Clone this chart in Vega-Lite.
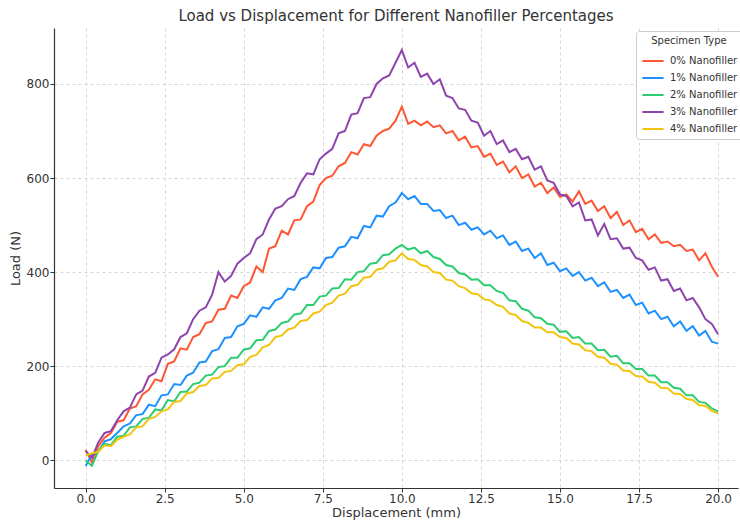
{
  "$schema": "https://vega.github.io/schema/vega-lite/v6.json",
  "width": 684,
  "height": 460,
  "autosize": {"type": "none"},
  "padding": {"left": 54, "top": 28, "right": 2, "bottom": 34},
  "background": "white",
  "title": {"text": "Load vs Displacement for Different Nanofiller Percentages", "fontSize": 15, "font": "DejaVu Sans", "fontWeight": "normal", "color": "#333333", "offset": 4},
  "data": {"values": [
{"x":0,"0% Nanofiller":22,"1% Nanofiller":-12,"2% Nanofiller":0,"3% Nanofiller":20,"4% Nanofiller":10},
{"x":0.2,"0% Nanofiller":-5,"1% Nanofiller":12,"2% Nanofiller":-12,"3% Nanofiller":5,"4% Nanofiller":15},
{"x":0.4,"0% Nanofiller":30,"1% Nanofiller":18,"2% Nanofiller":20,"3% Nanofiller":38,"4% Nanofiller":18},
{"x":0.6,"0% Nanofiller":48,"1% Nanofiller":40,"2% Nanofiller":35,"3% Nanofiller":58,"4% Nanofiller":32},
{"x":0.8,"0% Nanofiller":58,"1% Nanofiller":45,"2% Nanofiller":32,"3% Nanofiller":62,"4% Nanofiller":30},
{"x":1.0,"0% Nanofiller":82,"1% Nanofiller":58,"2% Nanofiller":50,"3% Nanofiller":85,"4% Nanofiller":44},
{"x":1.2,"0% Nanofiller":85,"1% Nanofiller":72,"2% Nanofiller":52,"3% Nanofiller":104,"4% Nanofiller":50},
{"x":1.4,"0% Nanofiller":110,"1% Nanofiller":78,"2% Nanofiller":70,"3% Nanofiller":112,"4% Nanofiller":55},
{"x":1.6,"0% Nanofiller":115,"1% Nanofiller":96,"2% Nanofiller":72,"3% Nanofiller":140,"4% Nanofiller":70},
{"x":1.8,"0% Nanofiller":140,"1% Nanofiller":98,"2% Nanofiller":88,"3% Nanofiller":148,"4% Nanofiller":72},
{"x":2.0,"0% Nanofiller":150,"1% Nanofiller":118,"2% Nanofiller":90,"3% Nanofiller":178,"4% Nanofiller":88},
{"x":2.2,"0% Nanofiller":172,"1% Nanofiller":115,"2% Nanofiller":108,"3% Nanofiller":186,"4% Nanofiller":92},
{"x":2.4,"0% Nanofiller":168,"1% Nanofiller":138,"2% Nanofiller":106,"3% Nanofiller":218,"4% Nanofiller":104},
{"x":2.6,"0% Nanofiller":205,"1% Nanofiller":140,"2% Nanofiller":128,"3% Nanofiller":225,"4% Nanofiller":108},
{"x":2.8,"0% Nanofiller":210,"1% Nanofiller":162,"2% Nanofiller":125,"3% Nanofiller":236,"4% Nanofiller":124},
{"x":3.0,"0% Nanofiller":238,"1% Nanofiller":160,"2% Nanofiller":145,"3% Nanofiller":262,"4% Nanofiller":126},
{"x":3.2,"0% Nanofiller":235,"1% Nanofiller":180,"2% Nanofiller":146,"3% Nanofiller":270,"4% Nanofiller":142},
{"x":3.4,"0% Nanofiller":262,"1% Nanofiller":186,"2% Nanofiller":162,"3% Nanofiller":300,"4% Nanofiller":145},
{"x":3.6,"0% Nanofiller":268,"1% Nanofiller":208,"2% Nanofiller":165,"3% Nanofiller":318,"4% Nanofiller":158},
{"x":3.8,"0% Nanofiller":292,"1% Nanofiller":210,"2% Nanofiller":180,"3% Nanofiller":325,"4% Nanofiller":160},
{"x":4.0,"0% Nanofiller":295,"1% Nanofiller":232,"2% Nanofiller":182,"3% Nanofiller":352,"4% Nanofiller":174},
{"x":4.2,"0% Nanofiller":320,"1% Nanofiller":236,"2% Nanofiller":198,"3% Nanofiller":400,"4% Nanofiller":175},
{"x":4.4,"0% Nanofiller":322,"1% Nanofiller":260,"2% Nanofiller":200,"3% Nanofiller":380,"4% Nanofiller":188},
{"x":4.6,"0% Nanofiller":350,"1% Nanofiller":262,"2% Nanofiller":218,"3% Nanofiller":392,"4% Nanofiller":190},
{"x":4.8,"0% Nanofiller":345,"1% Nanofiller":285,"2% Nanofiller":218,"3% Nanofiller":418,"4% Nanofiller":202},
{"x":5.0,"0% Nanofiller":370,"1% Nanofiller":290,"2% Nanofiller":235,"3% Nanofiller":430,"4% Nanofiller":204},
{"x":5.2,"0% Nanofiller":378,"1% Nanofiller":308,"2% Nanofiller":238,"3% Nanofiller":440,"4% Nanofiller":220},
{"x":5.4,"0% Nanofiller":412,"1% Nanofiller":305,"2% Nanofiller":255,"3% Nanofiller":470,"4% Nanofiller":224},
{"x":5.6,"0% Nanofiller":400,"1% Nanofiller":325,"2% Nanofiller":256,"3% Nanofiller":480,"4% Nanofiller":240},
{"x":5.8,"0% Nanofiller":450,"1% Nanofiller":322,"2% Nanofiller":275,"3% Nanofiller":512,"4% Nanofiller":245},
{"x":6.0,"0% Nanofiller":455,"1% Nanofiller":340,"2% Nanofiller":278,"3% Nanofiller":535,"4% Nanofiller":262},
{"x":6.2,"0% Nanofiller":488,"1% Nanofiller":345,"2% Nanofiller":292,"3% Nanofiller":540,"4% Nanofiller":265},
{"x":6.4,"0% Nanofiller":480,"1% Nanofiller":365,"2% Nanofiller":295,"3% Nanofiller":555,"4% Nanofiller":278},
{"x":6.6,"0% Nanofiller":510,"1% Nanofiller":362,"2% Nanofiller":310,"3% Nanofiller":562,"4% Nanofiller":282},
{"x":6.8,"0% Nanofiller":512,"1% Nanofiller":385,"2% Nanofiller":312,"3% Nanofiller":590,"4% Nanofiller":296},
{"x":7.0,"0% Nanofiller":540,"1% Nanofiller":390,"2% Nanofiller":330,"3% Nanofiller":610,"4% Nanofiller":298},
{"x":7.2,"0% Nanofiller":550,"1% Nanofiller":410,"2% Nanofiller":330,"3% Nanofiller":608,"4% Nanofiller":312},
{"x":7.4,"0% Nanofiller":585,"1% Nanofiller":408,"2% Nanofiller":348,"3% Nanofiller":640,"4% Nanofiller":316},
{"x":7.6,"0% Nanofiller":600,"1% Nanofiller":430,"2% Nanofiller":350,"3% Nanofiller":652,"4% Nanofiller":330},
{"x":7.8,"0% Nanofiller":605,"1% Nanofiller":432,"2% Nanofiller":365,"3% Nanofiller":662,"4% Nanofiller":335},
{"x":8.0,"0% Nanofiller":625,"1% Nanofiller":452,"2% Nanofiller":366,"3% Nanofiller":695,"4% Nanofiller":350},
{"x":8.2,"0% Nanofiller":632,"1% Nanofiller":455,"2% Nanofiller":385,"3% Nanofiller":700,"4% Nanofiller":354},
{"x":8.4,"0% Nanofiller":655,"1% Nanofiller":475,"2% Nanofiller":384,"3% Nanofiller":735,"4% Nanofiller":370},
{"x":8.6,"0% Nanofiller":650,"1% Nanofiller":472,"2% Nanofiller":400,"3% Nanofiller":738,"4% Nanofiller":373},
{"x":8.8,"0% Nanofiller":672,"1% Nanofiller":498,"2% Nanofiller":402,"3% Nanofiller":770,"4% Nanofiller":388},
{"x":9.0,"0% Nanofiller":668,"1% Nanofiller":495,"2% Nanofiller":418,"3% Nanofiller":772,"4% Nanofiller":390},
{"x":9.2,"0% Nanofiller":690,"1% Nanofiller":520,"2% Nanofiller":420,"3% Nanofiller":800,"4% Nanofiller":405},
{"x":9.4,"0% Nanofiller":700,"1% Nanofiller":518,"2% Nanofiller":436,"3% Nanofiller":812,"4% Nanofiller":408},
{"x":9.6,"0% Nanofiller":705,"1% Nanofiller":540,"2% Nanofiller":438,"3% Nanofiller":818,"4% Nanofiller":422},
{"x":9.8,"0% Nanofiller":722,"1% Nanofiller":548,"2% Nanofiller":450,"3% Nanofiller":845,"4% Nanofiller":425},
{"x":10.0,"0% Nanofiller":752,"1% Nanofiller":568,"2% Nanofiller":458,"3% Nanofiller":872,"4% Nanofiller":440},
{"x":10.2,"0% Nanofiller":715,"1% Nanofiller":555,"2% Nanofiller":448,"3% Nanofiller":835,"4% Nanofiller":428},
{"x":10.4,"0% Nanofiller":722,"1% Nanofiller":562,"2% Nanofiller":452,"3% Nanofiller":845,"4% Nanofiller":426},
{"x":10.6,"0% Nanofiller":712,"1% Nanofiller":545,"2% Nanofiller":440,"3% Nanofiller":815,"4% Nanofiller":415},
{"x":10.8,"0% Nanofiller":720,"1% Nanofiller":545,"2% Nanofiller":445,"3% Nanofiller":822,"4% Nanofiller":412},
{"x":11.0,"0% Nanofiller":708,"1% Nanofiller":530,"2% Nanofiller":432,"3% Nanofiller":800,"4% Nanofiller":400},
{"x":11.2,"0% Nanofiller":712,"1% Nanofiller":532,"2% Nanofiller":428,"3% Nanofiller":810,"4% Nanofiller":398},
{"x":11.4,"0% Nanofiller":695,"1% Nanofiller":515,"2% Nanofiller":415,"3% Nanofiller":775,"4% Nanofiller":384},
{"x":11.6,"0% Nanofiller":700,"1% Nanofiller":520,"2% Nanofiller":412,"3% Nanofiller":770,"4% Nanofiller":382},
{"x":11.8,"0% Nanofiller":680,"1% Nanofiller":500,"2% Nanofiller":398,"3% Nanofiller":748,"4% Nanofiller":370},
{"x":12.0,"0% Nanofiller":688,"1% Nanofiller":505,"2% Nanofiller":395,"3% Nanofiller":745,"4% Nanofiller":366},
{"x":12.2,"0% Nanofiller":665,"1% Nanofiller":490,"2% Nanofiller":384,"3% Nanofiller":722,"4% Nanofiller":355},
{"x":12.4,"0% Nanofiller":668,"1% Nanofiller":495,"2% Nanofiller":385,"3% Nanofiller":718,"4% Nanofiller":353},
{"x":12.6,"0% Nanofiller":645,"1% Nanofiller":480,"2% Nanofiller":372,"3% Nanofiller":690,"4% Nanofiller":342},
{"x":12.8,"0% Nanofiller":652,"1% Nanofiller":488,"2% Nanofiller":372,"3% Nanofiller":700,"4% Nanofiller":340},
{"x":13.0,"0% Nanofiller":628,"1% Nanofiller":472,"2% Nanofiller":360,"3% Nanofiller":672,"4% Nanofiller":330},
{"x":13.2,"0% Nanofiller":635,"1% Nanofiller":478,"2% Nanofiller":356,"3% Nanofiller":680,"4% Nanofiller":326},
{"x":13.4,"0% Nanofiller":612,"1% Nanofiller":458,"2% Nanofiller":340,"3% Nanofiller":655,"4% Nanofiller":312},
{"x":13.6,"0% Nanofiller":625,"1% Nanofiller":465,"2% Nanofiller":338,"3% Nanofiller":662,"4% Nanofiller":309},
{"x":13.8,"0% Nanofiller":600,"1% Nanofiller":445,"2% Nanofiller":322,"3% Nanofiller":640,"4% Nanofiller":296},
{"x":14.0,"0% Nanofiller":608,"1% Nanofiller":450,"2% Nanofiller":318,"3% Nanofiller":645,"4% Nanofiller":292},
{"x":14.2,"0% Nanofiller":582,"1% Nanofiller":430,"2% Nanofiller":304,"3% Nanofiller":618,"4% Nanofiller":282},
{"x":14.4,"0% Nanofiller":590,"1% Nanofiller":440,"2% Nanofiller":302,"3% Nanofiller":625,"4% Nanofiller":282},
{"x":14.6,"0% Nanofiller":568,"1% Nanofiller":415,"2% Nanofiller":290,"3% Nanofiller":595,"4% Nanofiller":272},
{"x":14.8,"0% Nanofiller":580,"1% Nanofiller":420,"2% Nanofiller":288,"3% Nanofiller":590,"4% Nanofiller":272},
{"x":15.0,"0% Nanofiller":560,"1% Nanofiller":402,"2% Nanofiller":273,"3% Nanofiller":565,"4% Nanofiller":262},
{"x":15.2,"0% Nanofiller":565,"1% Nanofiller":408,"2% Nanofiller":274,"3% Nanofiller":562,"4% Nanofiller":260},
{"x":15.4,"0% Nanofiller":550,"1% Nanofiller":392,"2% Nanofiller":260,"3% Nanofiller":540,"4% Nanofiller":248},
{"x":15.6,"0% Nanofiller":572,"1% Nanofiller":400,"2% Nanofiller":262,"3% Nanofiller":548,"4% Nanofiller":246},
{"x":15.8,"0% Nanofiller":545,"1% Nanofiller":382,"2% Nanofiller":248,"3% Nanofiller":510,"4% Nanofiller":234},
{"x":16.0,"0% Nanofiller":552,"1% Nanofiller":388,"2% Nanofiller":248,"3% Nanofiller":512,"4% Nanofiller":232},
{"x":16.2,"0% Nanofiller":530,"1% Nanofiller":370,"2% Nanofiller":234,"3% Nanofiller":478,"4% Nanofiller":220},
{"x":16.4,"0% Nanofiller":540,"1% Nanofiller":378,"2% Nanofiller":235,"3% Nanofiller":502,"4% Nanofiller":218},
{"x":16.6,"0% Nanofiller":515,"1% Nanofiller":358,"2% Nanofiller":220,"3% Nanofiller":470,"4% Nanofiller":205},
{"x":16.8,"0% Nanofiller":528,"1% Nanofiller":362,"2% Nanofiller":222,"3% Nanofiller":472,"4% Nanofiller":203},
{"x":17.0,"0% Nanofiller":500,"1% Nanofiller":345,"2% Nanofiller":206,"3% Nanofiller":450,"4% Nanofiller":191},
{"x":17.2,"0% Nanofiller":510,"1% Nanofiller":352,"2% Nanofiller":206,"3% Nanofiller":452,"4% Nanofiller":190},
{"x":17.4,"0% Nanofiller":485,"1% Nanofiller":330,"2% Nanofiller":194,"3% Nanofiller":430,"4% Nanofiller":179},
{"x":17.6,"0% Nanofiller":492,"1% Nanofiller":335,"2% Nanofiller":194,"3% Nanofiller":425,"4% Nanofiller":178},
{"x":17.8,"0% Nanofiller":470,"1% Nanofiller":312,"2% Nanofiller":180,"3% Nanofiller":405,"4% Nanofiller":167},
{"x":18.0,"0% Nanofiller":480,"1% Nanofiller":318,"2% Nanofiller":180,"3% Nanofiller":410,"4% Nanofiller":165},
{"x":18.2,"0% Nanofiller":462,"1% Nanofiller":300,"2% Nanofiller":166,"3% Nanofiller":382,"4% Nanofiller":154},
{"x":18.4,"0% Nanofiller":465,"1% Nanofiller":305,"2% Nanofiller":166,"3% Nanofiller":385,"4% Nanofiller":153},
{"x":18.6,"0% Nanofiller":455,"1% Nanofiller":285,"2% Nanofiller":154,"3% Nanofiller":360,"4% Nanofiller":142},
{"x":18.8,"0% Nanofiller":458,"1% Nanofiller":295,"2% Nanofiller":152,"3% Nanofiller":365,"4% Nanofiller":141},
{"x":19.0,"0% Nanofiller":445,"1% Nanofiller":275,"2% Nanofiller":138,"3% Nanofiller":340,"4% Nanofiller":130},
{"x":19.2,"0% Nanofiller":448,"1% Nanofiller":285,"2% Nanofiller":138,"3% Nanofiller":345,"4% Nanofiller":128},
{"x":19.4,"0% Nanofiller":425,"1% Nanofiller":265,"2% Nanofiller":124,"3% Nanofiller":325,"4% Nanofiller":117},
{"x":19.6,"0% Nanofiller":440,"1% Nanofiller":275,"2% Nanofiller":122,"3% Nanofiller":300,"4% Nanofiller":116},
{"x":19.8,"0% Nanofiller":412,"1% Nanofiller":252,"2% Nanofiller":110,"3% Nanofiller":290,"4% Nanofiller":105},
{"x":20.0,"0% Nanofiller":390,"1% Nanofiller":248,"2% Nanofiller":104,"3% Nanofiller":268,"4% Nanofiller":100}
  ]},
  "transform": [
    {"fold": ["0% Nanofiller", "1% Nanofiller", "2% Nanofiller", "3% Nanofiller", "4% Nanofiller"], "as": ["Specimen Type", "Load"]}
  ],
  "mark": {"type": "line", "strokeWidth": 2, "clip": true},
  "encoding": {
    "x": {"field": "x", "type": "quantitative", "title": "Displacement (mm)",
      "scale": {"domain": [-1, 20.63], "nice": false, "zero": false},
      "axis": {"values": [0, 2.5, 5, 7.5, 10, 12.5, 15, 17.5, 20], "format": ".1f"}},
    "y": {"field": "Load", "type": "quantitative", "title": "Load (N)",
      "scale": {"domain": [-59, 919], "nice": false, "zero": false},
      "axis": {"values": [0, 200, 400, 600, 800]}},
    "color": {"field": "Specimen Type", "type": "nominal",
      "scale": {"domain": ["0% Nanofiller", "1% Nanofiller", "2% Nanofiller", "3% Nanofiller", "4% Nanofiller"],
                "range": ["#FF5733", "#1E90FF", "#2ECC71", "#8E44AD", "#F1C40F"]},
      "legend": {"orient": "none", "legendX": 582, "legendY": 3, "symbolType": "stroke", "symbolSize": 450, "symbolStrokeWidth": 2,
        "fillColor": "white", "strokeColor": "#cccccc", "padding": 5, "cornerRadius": 3,
        "titleFontSize": 10, "titleFontWeight": "normal", "titleFont": "DejaVu Sans", "titleColor": "#333333", "titleAnchor": "middle",
        "labelFontSize": 10, "labelFont": "DejaVu Sans", "labelColor": "#333333", "rowPadding": -6, "titlePadding": 3, "labelOffset": 5}}
  },
  "config": {
    "view": {"stroke": null},
    "axis": {"labelFont": "DejaVu Sans", "titleFont": "DejaVu Sans", "labelFontSize": 12, "titleFontSize": 13, "titleFontWeight": "normal",
      "labelColor": "#333333", "titleColor": "#333333", "domainColor": "#333333", "domainWidth": 1.2, "tickColor": "#333333", "tickSize": 4,
      "grid": true, "gridColor": "#cccccc", "gridDash": [3, 3], "gridWidth": 0.8, "labelPadding": 1},
    "axisY": {"titlePadding": 4},
    "axisX": {"titlePadding": 2}
  }
}
